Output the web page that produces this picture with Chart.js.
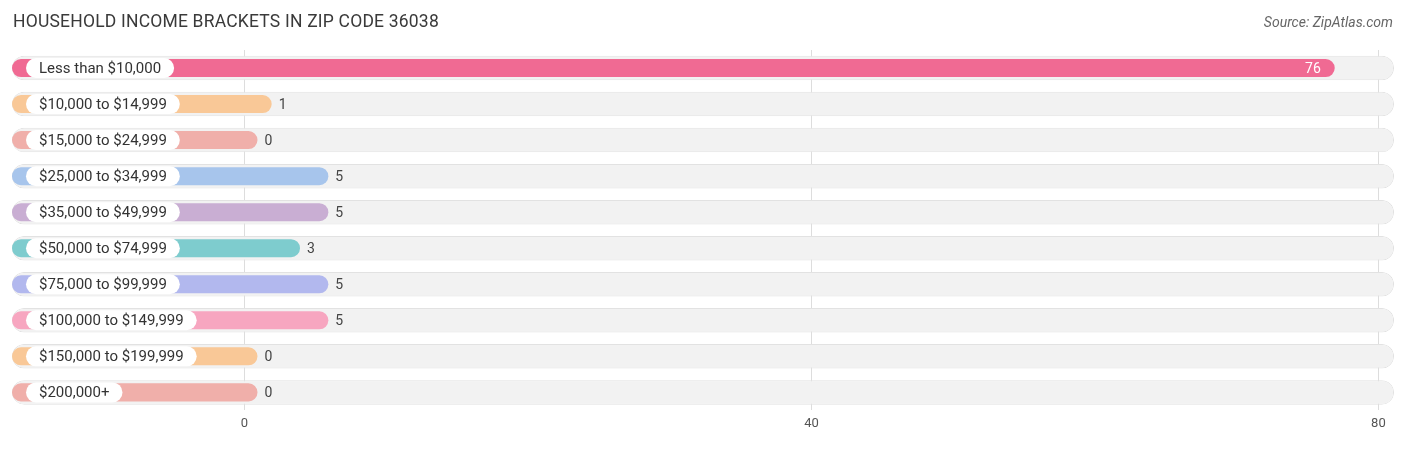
<!DOCTYPE html>
<html>
<head>
<meta charset="utf-8">
<script src="https://cdn.jsdelivr.net/npm/chart.js@4.4.1/dist/chart.umd.min.js"></script>
<style>
  body { margin: 0; background: #fff; font-family: Roboto, "Noto Sans", sans-serif; }
  #wrap { position: relative; width: 1406px; height: 450px; }
  #title { position: absolute; left: 13px; top: 11px; font-size: 17.5px; color: #3a3a3a; letter-spacing: 0.2px; }
  #source { position: absolute; right: 13px; top: 14px; font-size: 14px; color: #666; font-style: italic; }
</style>
</head>
<body>
<div id="wrap">
  <div id="title">HOUSEHOLD INCOME BRACKETS IN ZIP CODE 36038</div>
  <div id="source">Source: ZipAtlas.com</div>
  <canvas id="c" width="1406" height="450"></canvas>
</div>
<script>
const categories = ["Less than $10,000", "$10,000 to $14,999", "$15,000 to $24,999", "$25,000 to $34,999",
  "$35,000 to $49,999", "$50,000 to $74,999", "$75,000 to $99,999", "$100,000 to $149,999",
  "$150,000 to $199,999", "$200,000+"];
const values = [76, 1, 0, 5, 5, 3, 5, 5, 0, 0];
const colors = ["#F06A93", "#F9C897", "#F0AFAA", "#A7C5EC", "#C9AED3", "#7ECCCE", "#B2B8EE", "#F7A6C0", "#F9C897", "#F0AFAA"];
const tickValues = [0, 40, 80];

const xMin = -16.4, xMax = 81.1, capPad = 0.92;

const labelPlugin = {
  id: 'labels',
  afterDatasetsDraw(chart) {
    const ctx = chart.ctx, x = chart.scales.x, y = chart.scales.y;
    ctx.save();
    ctx.font = '15px Roboto, "Noto Sans", sans-serif';
    ctx.textBaseline = 'middle';
    categories.forEach((cat, i) => {
      const cy = y.getPixelForValue(i);
      const w = ctx.measureText(cat).width;
      const lx = x.getPixelForValue(xMin) + 14;
      ctx.fillStyle = '#fff';
      ctx.beginPath();
      ctx.roundRect(lx, cy - 10, w + 26, 20, 10);
      ctx.fill();
      ctx.fillStyle = '#333';
      ctx.textAlign = 'left';
      ctx.fillText(cat, lx + 13, cy + 1);
      const end = x.getPixelForValue(values[i] + capPad);
      ctx.font = '14px Roboto, "Noto Sans", sans-serif';
      if (values[i] > 40) {
        ctx.fillStyle = '#fff';
        ctx.textAlign = 'right';
        ctx.fillText(String(values[i]), end - 14, cy + 1);
      } else {
        ctx.fillStyle = '#444';
        ctx.textAlign = 'left';
        ctx.fillText(String(values[i]), end + 7, cy + 1);
      }
      ctx.font = '15px Roboto, "Noto Sans", sans-serif';
    });
    ctx.restore();
  }
};

new Chart(document.getElementById('c'), {
  type: 'bar',
  data: {
    labels: categories,
    datasets: [
      {
        data: values.map(v => [xMin, v + capPad]),
        backgroundColor: colors,
        borderRadius: 9,
        borderSkipped: false,
        barPercentage: 0.5,
        categoryPercentage: 1,
        grouped: false,
        order: 1
      },
      {
        data: values.map(() => [xMin, xMax]),
        backgroundColor: '#f2f2f2',
        borderColor: '#e2e2e2',
        borderWidth: 1,
        borderRadius: 12,
        borderSkipped: false,
        barPercentage: 0.68,
        categoryPercentage: 1,
        grouped: false,
        order: 2
      }
    ]
  },
  options: {
    indexAxis: 'y',
    responsive: false,
    animation: false,
    layout: { padding: { top: 50, left: 12, right: 12, bottom: 12 } },
    plugins: { legend: { display: false }, tooltip: { enabled: false } },
    scales: {
      y: { display: false },
      x: {
        min: xMin, max: xMax,
        afterBuildTicks(axis) { axis.ticks = tickValues.map(v => ({ value: v })); },
        border: { display: false },
        grid: { color: '#dddddd', drawTicks: false },
        ticks: { color: '#555', font: { size: 13, family: 'Roboto' }, padding: 6 }
      }
    }
  },
  plugins: [labelPlugin]
});
</script>
</body>
</html>
